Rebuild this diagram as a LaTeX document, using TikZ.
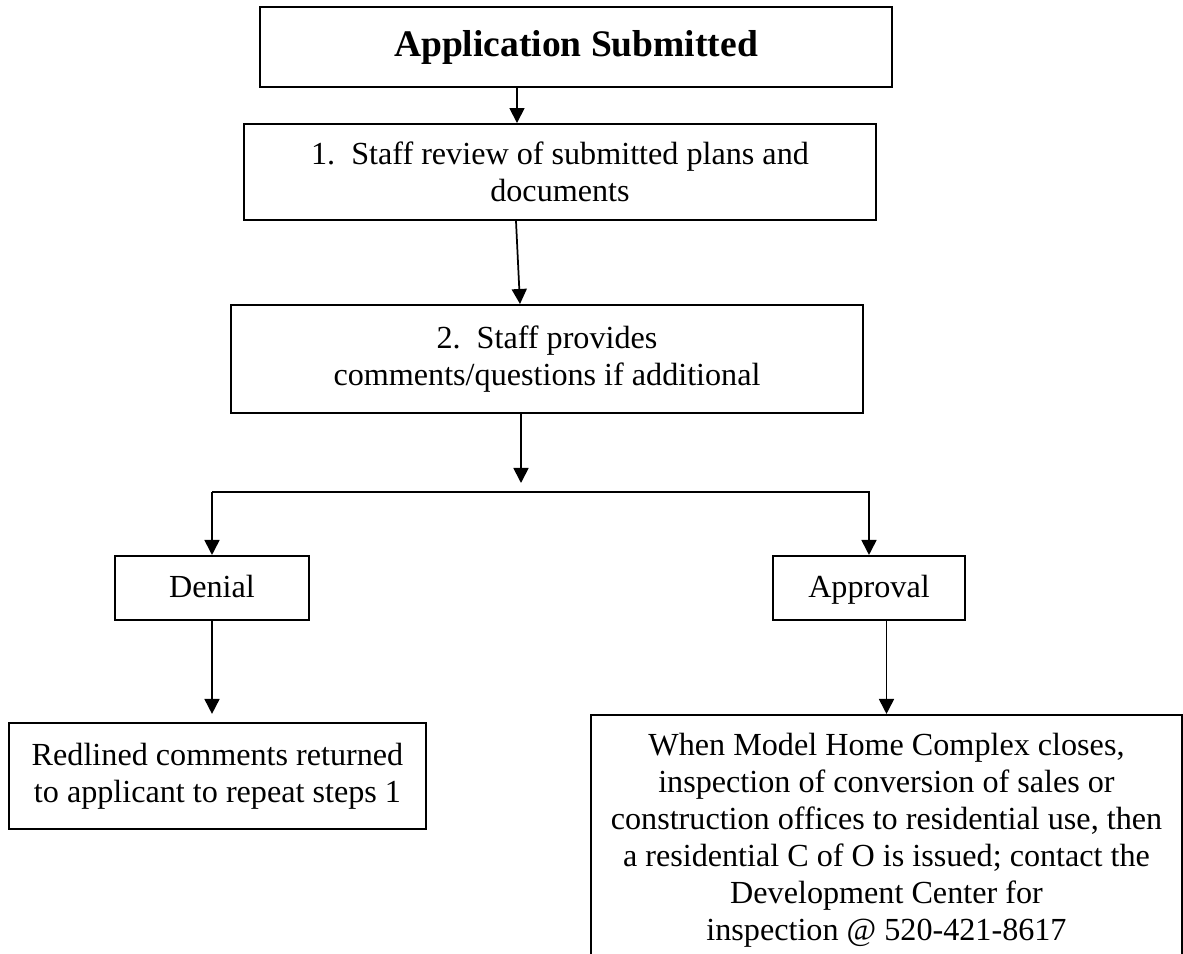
\documentclass[tikz,border=0pt]{standalone}
\usepackage{fontspec}
\setmainfont{Liberation Serif}
\usetikzlibrary{arrows.meta,calc}

\begin{document}
\begin{tikzpicture}[x=0.37313pt,y=-0.37313pt,>={Triangle[length=5.6pt,width=5.6pt]},
  box/.style={draw,line width=0.75pt,align=center,inner sep=0pt,font=\fontsize{12}{13.8}\selectfont},
  tag/.style={box,text height=8.8pt,text depth=2pt},
  link/.style={->,line width=0.65pt}]
\useasboundingbox (0,0) rectangle (1183,954);
\node[box,minimum width=235.8pt,minimum height=29.85pt,font=\fontsize{14}{16}\selectfont\bfseries] (apply) at (576,47) {Application Submitted};
\node[box,minimum width=235.8pt,minimum height=35.8pt] (review) at (560,172) {1.\ \ Staff review of submitted plans and\\documents};
\node[box,minimum width=235.8pt,minimum height=40.3pt] (provide) at (547,359) {2.\ \ Staff provides\\comments/questions if additional};
\node[tag,minimum width=72.4pt,minimum height=23.9pt] (denial) at (212,588) {Denial};
\node[tag,minimum width=71.6pt,minimum height=23.9pt] (approval) at (869,588) {Approval};
\node[box,minimum width=155.6pt,minimum height=39.6pt] (redline) at (217.5,776) {Redlined comments returned\\to applicant to repeat steps 1};
\node[box,minimum width=220.5pt,minimum height=93.3pt] (convert) at (886.5,840) {When Model Home Complex closes,\\inspection of conversion of sales or\\construction offices to residential use, then\\a residential C of O is issued; contact the\\Development Center for\\inspection @ 520-421-8617};
\coordinate (bar) at (521,492);
\draw[link] ($(apply.south)+(-59,0)$) -- ($(review.north)+(-43,0)$);
\draw[link] ($(review.south)+(-44,0)$) -- ($(provide.north)+(-27,0)$);
\draw[link] (provide.south -| bar) -- ($(bar)+(0,-9)$);
\draw[link] (bar -| denial.north) -- (denial.north);
\draw[link] (bar -| denial.north) -- (bar -| approval.north) -- (approval.north);
\draw[link] (denial.south) -- ($(denial.south |- redline.north)+(0,-8)$);
\draw[link] (convert.north |- approval.south) -- (convert.north);
\end{tikzpicture}
\end{document}
